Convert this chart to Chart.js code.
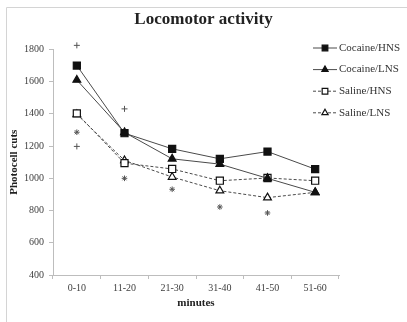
<!DOCTYPE html>
<html>
<head>
<meta charset="utf-8">
<script src="https://cdn.jsdelivr.net/npm/chart.js@4.4.1/dist/chart.umd.min.js"></script>
<style>
  html, body { margin: 0; padding: 0; background: #fff; }
  #wrap { width: 407px; height: 322px; }
</style>
</head>
<body>
<div id="wrap"><canvas id="myChart" width="407" height="322"></canvas></div>
<script>
// photocell counts per 10-min bin
const minutes = ['0-10', '11-20', '21-30', '31-40', '41-50', '51-60'];
const cocaineHNS = [1700, 1280, 1183, 1121, 1166, 1057];
const cocaineLNS = [1610, 1285, 1121, 1088, 1000, 913];
const salineHNS = [1403, 1094, 1058, 985, 1002, 985];
const salineLNS = [1397, 1111, 1008, 923, 880, 913];
// significance marks (+ and *)
const plusHigh = [1825, 1431, null, null, null, null];
const plusLow = [1198, null, null, null, null, null];
const stars = [1286, 1000, 932, 822, 785, null];

const serif = "'Liberation Serif', 'DejaVu Serif', serif";
const inkLine = '#4a4a4a';

function series(label, values, style, open, dashed) {
  return {
    label: label,
    data: values,
    borderColor: inkLine,
    borderWidth: 1,
    borderDash: dashed ? [3, 2] : [],
    pointStyle: style,
    pointRadius: style === 'rect' ? 5 : 4.5,
    pointBackgroundColor: open ? '#fff' : '#111',
    pointBorderColor: '#111',
    pointBorderWidth: 1.2,
    tension: 0,
    fill: false
  };
}

function mark(values, style) {
  return {
    label: '',
    data: values,
    showLine: false,
    clip: false,
    pointStyle: style,
    pointRadius: style === 'star' ? 2.8 : 3,
    pointBorderColor: '#555',
    pointBackgroundColor: '#555',
    pointBorderWidth: 1,
    isMark: true
  };
}

// frame + legend on the right
const extras = {
  id: 'extras',
  beforeDraw(chart) {
    const ctx = chart.ctx;
    ctx.save();
    ctx.strokeStyle = '#d4d4d4';
    ctx.lineWidth = 1;
    ctx.beginPath();
    ctx.moveTo(6.5, 322);
    ctx.lineTo(6.5, 7.5);
    ctx.lineTo(407, 7.5);
    ctx.stroke();
    ctx.restore();
  },
  afterDraw(chart) {
    const ctx = chart.ctx;
    ctx.save();
    chart.data.datasets.forEach((ds, i) => {
      if (ds.isMark) return;
      const y = 48 + i * 21.6;
      ctx.strokeStyle = ds.borderColor;
      ctx.lineWidth = 1;
      ctx.setLineDash(ds.borderDash);
      ctx.beginPath();
      ctx.moveTo(313, y);
      ctx.lineTo(337, y);
      ctx.stroke();
      ctx.setLineDash([]);
      ctx.fillStyle = ds.pointBackgroundColor;
      ctx.strokeStyle = ds.pointBorderColor;
      ctx.lineWidth = 1.2;
      Chart.helpers.drawPoint(ctx, {
        pointStyle: ds.pointStyle,
        radius: ds.pointStyle === 'rect' ? 4 : 3.6,
        rotation: 0,
        borderWidth: 1.2
      }, 325, y);
      ctx.fillStyle = '#333';
      ctx.font = '11px ' + serif;
      ctx.textAlign = 'left';
      ctx.textBaseline = 'middle';
      ctx.fillText(ds.label, 339, y);
    });
    ctx.restore();
  }
};

const data = {
  labels: minutes,
  datasets: [
    series('Cocaine/HNS', cocaineHNS, 'rect', false, false),
    series('Cocaine/LNS', cocaineLNS, 'triangle', false, false),
    series('Saline/HNS', salineHNS, 'rect', true, true),
    series('Saline/LNS', salineLNS, 'triangle', true, true),
    mark(plusHigh, 'cross'),
    mark(plusLow, 'cross'),
    mark(stars, 'star')
  ]
};

const config = {
  type: 'line',
  data,
  plugins: [extras],
  options: {
    responsive: false,
    animation: false,
    layout: { padding: 0 },
    scales: {
      x: {
        offset: true,
        afterFit: s => { s.height = 47; },
        border: { display: true, color: '#bdbdbd' },
        grid: {
          offset: true,
          drawOnChartArea: false,
          drawTicks: true,
          tickLength: 4,
          color: '#bdbdbd'
        },
        ticks: {
          color: '#404040',
          padding: 3,
          font: { family: serif, size: 10 }
        },
        title: {
          display: true,
          text: 'minutes',
          color: '#222',
          font: { family: serif, size: 11, weight: 'bold' },
          padding: { top: 0, bottom: 12 }
        }
      },
      y: {
        min: 400,
        max: 1800,
        afterFit: s => { s.width = 53; },
        border: { display: true, color: '#bdbdbd' },
        grid: {
          drawOnChartArea: false,
          drawTicks: true,
          tickLength: 4,
          color: '#bdbdbd'
        },
        ticks: {
          stepSize: 200,
          color: '#404040',
          padding: 5,
          font: { family: serif, size: 10 },
          callback: v => String(v)
        },
        title: {
          display: true,
          text: 'Photocell cuts',
          color: '#222',
          font: { family: serif, size: 11, weight: 'bold' },
          padding: { top: 8, bottom: 0 }
        }
      },
      // blank space on the right for the legend
      pad: {
        position: 'right',
        display: true,
        afterFit: s => { s.width = 68; },
        border: { display: false },
        grid: { display: false },
        ticks: { display: false }
      }
    },
    plugins: {
      legend: { display: false },
      tooltip: { enabled: false },
      title: {
        display: true,
        text: 'Locomotor activity',
        color: '#222',
        font: { family: serif, size: 17, weight: 'bold' },
        padding: { top: 9, bottom: 20 }
      }
    }
  }
};

const myChart = new Chart(document.getElementById('myChart'), config);
</script>
</body>
</html>
